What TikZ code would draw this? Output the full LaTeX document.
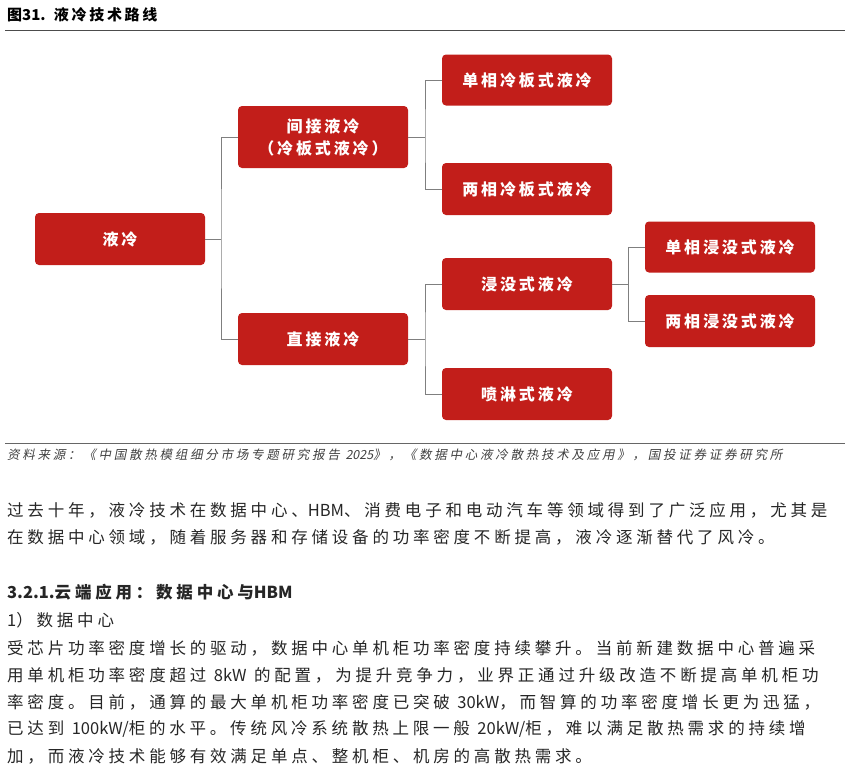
\documentclass[tikz,border=0pt]{standalone}
\usepackage{fontspec}
\setmainfont{Noto Sans CJK SC}
\newfontfamily\slfont[FakeSlant=0.2,LetterSpace=22]{Noto Sans CJK SC}
\newfontfamily\slplain[FakeSlant=0.2]{Noto Sans CJK SC}
\newfontfamily\spfont[LetterSpace=23]{Noto Sans CJK SC}
\newfontfamily\plainfont{Noto Sans CJK SC}
\newfontfamily\bxfont[LetterSpace=18]{Noto Sans CJK SC}
\newcommand{\lt}[1]{{\plainfont #1}}
\newcommand{\lts}[1]{{\slplain #1}}
\definecolor{boxred}{HTML}{C21E1A}
\definecolor{linegray}{HTML}{7F7F7F}
\begin{document}
\begin{tikzpicture}[x=1pt,y=-1pt,
  box/.style={fill=boxred,draw=none,rounded corners=4pt,minimum width=170pt,text=white,font=\fontsize{16}{22}\bxfont\bfseries,align=center,inner sep=2pt},
  conn/.style={draw=linegray,line width=0.7pt},
  body/.style={anchor=west,inner sep=0,font=\fontsize{16.5}{20}\spfont,text=black!85}]
\useasboundingbox (0,0) rectangle (850,774);
\node[anchor=west,inner sep=0,font=\fontsize{15}{18}\bxfont\bfseries] (title) at (7,15) {\lt{\bfseries 图31.} 液冷技术路线};
\draw[line width=0.8pt,black!70] (5,30) -- (845,30);
\node[box,minimum height=52pt] (root) at (120,239) {液冷};
\node[box,minimum height=62pt] (ind) at (323,137) {间接液冷\\（冷板式液冷）};
\node[box,minimum height=52pt] (dir) at (323,339) {直接液冷};
\node[box,minimum height=51pt] (a1) at (527,80) {单相冷板式液冷};
\node[box,minimum height=52pt] (a2) at (527,189) {两相冷板式液冷};
\node[box,minimum height=52pt] (b1) at (527,284) {浸没式液冷};
\node[box,minimum height=52pt] (b2) at (527,394) {喷淋式液冷};
\node[box,minimum height=51pt] (c1) at (730,247) {单相浸没式液冷};
\node[box,minimum height=52pt] (c2) at (730,321) {两相浸没式液冷};
\coordinate (j0) at (221,239);
\coordinate (j1) at (425,137);
\coordinate (j2) at (425,339);
\coordinate (j3) at (628,284);
\draw[conn] (root.east) -- (j0) (ind.west) -| (j0) |- (dir.west);
\draw[conn] (ind.east) -- (j1) (a1.west) -| (j1) |- (a2.west);
\draw[conn] (dir.east) -- (j2) (b1.west) -| (j2) |- (b2.west);
\draw[conn] (b1.east) -- (j3) (c1.west) -| (j3) |- (c2.west);
\draw[line width=0.6pt,black!60] (5,443) -- (845,443);
\node[anchor=west,inner sep=0,font=\fontsize{12.5}{14}\slfont,text=black!75] (src) at (7,455) {资料来源：《中国散热模组细分市场专题研究报告 \lts{2025}》，《数据中心液冷散热技术及应用》，国投证券证券研究所};
\node[body] (p1) at (7,510) {过去十年，液冷技术在数据中心、\lt{HBM}、消费电子和电动汽车等领域得到了广泛应用，尤其是};
\node[body] (p2) at (7,537) {在数据中心领域，随着服务器和存储设备的功率密度不断提高，液冷逐渐替代了风冷。};
\node[body,font=\fontsize{16.5}{20}\spfont\bfseries] (h) at (7,592) {\lt{\bfseries 3.2.1.}云端应用：数据中心与\lt{\bfseries HBM}};
\node[body] (h2) at (7,620) {\lt{1}）数据中心};
\node[body] (q1) at (7,648) {受芯片功率密度增长的驱动，数据中心单机柜功率密度持续攀升。当前新建数据中心普遍采};
\node[body] (q2) at (7,675) {用单机柜功率密度超过 \lt{8kW} 的配置，为提升竞争力，业界正通过升级改造不断提高单机柜功};
\node[body] (q3) at (7,702) {率密度。目前，通算的最大单机柜功率密度已突破 \lt{30kW}，而智算的功率密度增长更为迅猛，};
\node[body] (q4) at (7,729) {已达到 \lt{100kW/}柜的水平。传统风冷系统散热上限一般 \lt{20kW/}柜，难以满足散热需求的持续增};
\node[body] (q5) at (7,756) {加，而液冷技术能够有效满足单点、整机柜、机房的高散热需求。};
\end{tikzpicture}
\end{document}
